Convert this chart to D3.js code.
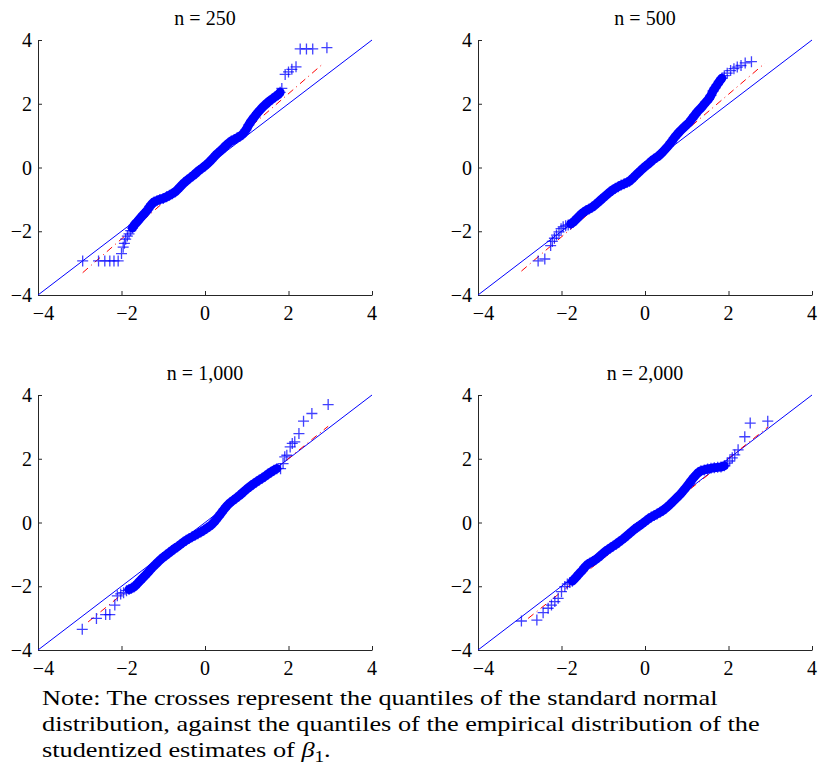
<!DOCTYPE html>
<html>
<head>
<meta charset="utf-8">
<script src="https://cdn.jsdelivr.net/npm/d3@7"></script>
<style>
  body { margin: 0; background: #fff; }
  .axis line, .axis path { stroke: #262626; }
</style>
</head>
<body>
<div id="chart"></div>
<script>
var serif = "'Liberation Serif', 'Times New Roman', serif";

// panel titles
var titles = ['n = 250', 'n = 500', 'n = 1,000', 'n = 2,000'];
var ticks = [-4, -2, 0, 2, 4];

// quantile pairs [normal quantile, studentized estimate quantile]
var qq250 = [
  [-2.93,-2.93],[-2.55,-2.93],[-2.40,-2.93],[-2.28,-2.93],[-2.18,-2.93],[-2.08,-2.93],
  [-2.00,-2.70],[-1.96,-2.50],[-1.93,-2.38],[-1.90,-2.25],[-1.86,-2.15],[-1.82,-2.08],
  [-1.78,-1.98],[-1.74,-1.90],[-1.70,-1.82],[-1.66,-1.75],[-1.62,-1.70],[-1.57,-1.62],
  [-1.52,-1.54],[-1.47,-1.47],[-1.42,-1.40],[-1.37,-1.32],[-1.32,-1.22],[-1.27,-1.14],
  [-1.22,-1.08],[-1.15,-1.04],[-1.08,-1.00],[-1.00,-0.97],[-0.92,-0.92],[-0.85,-0.87],
  [-0.78,-0.82],[-0.71,-0.76],[-0.64,-0.67],[-0.57,-0.57],[-0.50,-0.48],[-0.43,-0.40],
  [-0.36,-0.33],[-0.29,-0.26],[-0.22,-0.18],[-0.15,-0.10],[-0.08,-0.03],[0.00,0.05],
  [0.07,0.13],[0.14,0.22],[0.21,0.32],[0.28,0.42],[0.35,0.50],[0.42,0.58],[0.49,0.68],
  [0.56,0.76],[0.63,0.83],[0.70,0.88],[0.77,0.93],[0.84,0.98],[0.91,1.05],[0.98,1.18],
  [1.05,1.34],[1.12,1.48],[1.19,1.60],[1.26,1.72],[1.33,1.82],[1.40,1.92],[1.47,2.00],
  [1.54,2.08],[1.61,2.15],[1.68,2.22],[1.75,2.28],[1.80,2.36],[1.84,2.48],
  [1.92,2.92],[2.00,3.00],[2.08,3.08],[2.18,3.16],
  [2.28,3.72],[2.43,3.72],[2.58,3.72],[2.92,3.76]
];
var qq500 = [
  [-2.56,-2.93],[-2.40,-2.87],[-2.26,-2.45],[-2.22,-2.32],[-2.17,-2.22],[-2.12,-2.12],
  [-2.06,-2.02],[-2.01,-1.92],[-1.96,-1.86],[-1.90,-1.83],[-1.84,-1.80],[-1.78,-1.77],
  [-1.72,-1.72],[-1.66,-1.64],[-1.60,-1.56],[-1.54,-1.48],[-1.48,-1.41],[-1.41,-1.35],
  [-1.34,-1.30],[-1.27,-1.25],[-1.20,-1.18],[-1.13,-1.10],[-1.06,-1.02],[-0.99,-0.94],
  [-0.92,-0.86],[-0.85,-0.78],[-0.78,-0.71],[-0.71,-0.65],[-0.64,-0.60],[-0.57,-0.55],
  [-0.50,-0.51],[-0.43,-0.47],[-0.37,-0.43],[-0.31,-0.36],[-0.25,-0.28],[-0.19,-0.20],
  [-0.13,-0.13],[-0.06,-0.04],[0.00,0.03],[0.07,0.10],[0.14,0.18],[0.21,0.26],
  [0.28,0.32],[0.35,0.39],[0.42,0.48],[0.49,0.58],[0.56,0.68],[0.63,0.80],[0.70,0.93],
  [0.77,1.04],[0.84,1.14],[0.91,1.23],[0.98,1.32],[1.05,1.40],[1.12,1.52],[1.19,1.64],
  [1.26,1.76],[1.33,1.85],[1.40,1.96],[1.46,2.05],[1.52,2.14],[1.58,2.26],[1.63,2.40],
  [1.68,2.50],[1.73,2.60],[1.78,2.70],[1.84,2.80],[1.90,2.88],[1.97,2.96],[2.05,3.04],
  [2.13,3.10],[2.21,3.15],[2.30,3.20],[2.40,3.28],[2.55,3.32]
];
var qq1000 = [
  [-2.94,-3.35],[-2.60,-3.01],[-2.38,-2.89],[-2.28,-2.89],[-2.16,-2.59],[-2.10,-2.30],
  [-2.02,-2.24],[-1.95,-2.20],[-1.88,-2.14],[-1.82,-2.10],[-1.76,-2.06],[-1.70,-2.02],
  [-1.64,-1.95],[-1.58,-1.86],[-1.52,-1.78],[-1.46,-1.70],[-1.40,-1.62],[-1.34,-1.53],
  [-1.28,-1.44],[-1.22,-1.36],[-1.15,-1.27],[-1.08,-1.18],[-1.01,-1.10],[-0.94,-1.03],
  [-0.87,-0.96],[-0.80,-0.89],[-0.73,-0.82],[-0.66,-0.76],[-0.59,-0.69],[-0.52,-0.62],
  [-0.45,-0.56],[-0.38,-0.50],[-0.31,-0.45],[-0.24,-0.40],[-0.17,-0.35],[-0.10,-0.30],
  [-0.03,-0.24],[0.04,-0.18],[0.11,-0.12],[0.18,-0.04],[0.25,0.06],[0.32,0.18],
  [0.39,0.30],[0.46,0.42],[0.53,0.53],[0.60,0.62],[0.67,0.69],[0.74,0.76],[0.81,0.83],
  [0.88,0.91],[0.95,0.99],[1.02,1.07],[1.09,1.14],[1.16,1.21],[1.23,1.27],[1.30,1.33],
  [1.37,1.39],[1.44,1.45],[1.51,1.52],[1.58,1.58],[1.65,1.64],[1.72,1.69],[1.81,1.69],
  [1.87,1.85],[1.91,2.06],[1.96,2.11],[2.04,2.37],[2.09,2.48],[2.15,2.53],[2.25,2.79],
  [2.36,3.18],[2.56,3.42],[2.95,3.70]
];
var qq2000 = [
  [-2.96,-3.09],[-2.59,-3.06],[-2.44,-2.83],[-2.32,-2.69],[-2.24,-2.59],[-2.16,-2.48],
  [-2.08,-2.38],[-2.00,-2.17],[-1.92,-2.01],[-1.86,-1.93],[-1.80,-1.88],[-1.74,-1.84],
  [-1.68,-1.76],[-1.62,-1.67],[-1.56,-1.58],[-1.50,-1.50],[-1.44,-1.40],[-1.38,-1.32],
  [-1.32,-1.27],[-1.25,-1.22],[-1.18,-1.16],[-1.11,-1.09],[-1.04,-1.01],[-0.97,-0.93],
  [-0.90,-0.86],[-0.83,-0.80],[-0.76,-0.74],[-0.69,-0.68],[-0.62,-0.61],[-0.55,-0.54],
  [-0.48,-0.47],[-0.41,-0.39],[-0.34,-0.31],[-0.27,-0.23],[-0.20,-0.16],[-0.13,-0.10],
  [-0.06,-0.03],[0.01,0.04],[0.08,0.11],[0.15,0.17],[0.22,0.22],[0.29,0.27],
  [0.36,0.32],[0.43,0.38],[0.50,0.45],[0.57,0.53],[0.64,0.62],[0.71,0.71],[0.78,0.80],
  [0.85,0.89],[0.92,1.00],[0.99,1.11],[1.06,1.23],[1.13,1.35],[1.20,1.46],[1.27,1.56],
  [1.34,1.62],[1.42,1.65],[1.50,1.68],[1.58,1.70],[1.66,1.72],[1.74,1.73],[1.82,1.74],
  [1.90,1.78],[1.97,1.86],[2.03,1.93],[2.09,2.03],[2.15,2.12],[2.23,2.28],[2.39,2.69],
  [2.52,3.12],[2.94,3.18]
];

// x range where the crosses pile up into a solid band
var denseX = [[-1.75, 1.80], [-1.80, 1.86], [-1.85, 1.75], [-1.75, 1.95]];

// fitted reference line (red dash-dot) end points: [x1, y1, x2, y2]
var fitLines = [
  [-2.93, -3.30, 2.83, 3.26],
  [-2.96, -3.25, 2.87, 3.27],
  [-2.80, -3.12, 2.95, 3.02],
  [-2.80, -3.01, 2.95, 3.00]
];
var diagLine = [-4, -4, 4, 4];

var noteLines = [
  'Note: The crosses represent the quantiles of the standard normal',
  'distribution, against the quantiles of the empirical distribution of the'
];

var width = 820, height = 766;
var pw = 334, ph = 255;
var origins = [[38, 40], [478, 40], [38, 395], [478, 395]];
var series = [qq250, qq500, qq1000, qq2000];

var svg = d3.select('#chart').append('svg').attr('width', width).attr('height', height)
  .attr('font-family', serif);

var fmt = function(t) { return t < 0 ? '\u2212' + Math.abs(t) : String(t); };

series.forEach(function(data, k) {
  var ox = origins[k][0], oy = origins[k][1];
  var x = d3.scaleLinear().domain([-4, 4]).range([ox, ox + pw]);
  var y = d3.scaleLinear().domain([-4, 4]).range([oy + ph, oy]);
  var g = svg.append('g');

  // axes with inward ticks, no box
  g.append('g').attr('class', 'axis').attr('transform', 'translate(0,' + (oy + ph) + ')')
    .call(d3.axisBottom(x).tickValues(ticks).tickSizeInner(-4).tickSizeOuter(0).tickFormat(''));
  g.append('g').attr('class', 'axis').attr('transform', 'translate(' + ox + ',0)')
    .call(d3.axisLeft(y).tickValues(ticks).tickSizeInner(-4).tickSizeOuter(0).tickFormat(''));

  // tick labels: digit centred on the tick, minus hangs left
  g.append('g').selectAll('text.xl').data(ticks).enter().append('text').attr('class', 'xl')
    .attr('x', function(t) { return x(t) + (t < 0 ? 5.5 : 0); })
    .attr('y', oy + ph + 25)
    .style('text-anchor', 'middle').style('font-size', '20px')
    .text(fmt);
  g.append('g').selectAll('text.yl').data(ticks).enter().append('text').attr('class', 'yl')
    .attr('x', ox - 6)
    .attr('y', function(t) { return y(t) + 7; })
    .style('text-anchor', 'end').style('font-size', '20px')
    .text(fmt);

  g.append('text').attr('x', x(0)).attr('y', oy - 15)
    .style('text-anchor', 'middle').style('font-size', '20px').text(titles[k]);

  // y = x
  g.append('line')
    .attr('x1', x(diagLine[0])).attr('y1', y(diagLine[1]))
    .attr('x2', x(diagLine[2])).attr('y2', y(diagLine[3]))
    .attr('stroke', '#0000ff').attr('stroke-width', 1);

  // fitted line
  var f = fitLines[k];
  g.append('line')
    .attr('x1', x(f[0])).attr('y1', y(f[1]))
    .attr('x2', x(f[2])).attr('y2', y(f[3]))
    .attr('stroke', '#ff0000').attr('stroke-width', 1)
    .attr('stroke-dasharray', '7,4,1,4');

  // where hundreds of crosses overlap they merge into one solid stroke
  var dense = data.filter(function(p) { return p[0] >= denseX[k][0] && p[0] <= denseX[k][1]; });
  g.append('path').datum(dense)
    .attr('d', d3.line().x(function(p) { return x(p[0]); }).y(function(p) { return y(p[1]); }))
    .attr('fill', 'none').attr('stroke', '#0000ff').attr('stroke-width', 9)
    .attr('stroke-linejoin', 'round').attr('stroke-linecap', 'round');

  // crosses
  var s = 5.5;
  g.append('g').selectAll('path.cross').data(data).enter().append('path').attr('class', 'cross')
    .attr('d', function(p) {
      var cx = x(p[0]), cy = y(p[1]);
      return 'M' + (cx - s) + ',' + cy + 'h' + (2 * s) + 'M' + cx + ',' + (cy - s) + 'v' + (2 * s);
    })
    .attr('stroke', '#0000ff').attr('stroke-width', 1.3).attr('stroke-opacity', 0.75)
    .attr('fill', 'none');
});

// note under the panels
var note = svg.append('g').attr('class', 'note');
noteLines.forEach(function(line, i) {
  note.append('text').attr('x', 0).attr('y', i * 26).style('font-size', '22px').text(line);
});
var last = note.append('text').attr('x', 0).attr('y', 52).style('font-size', '22px');
last.append('tspan').text('studentized estimates of ');
last.append('tspan').style('font-style', 'italic').text('\u03b2');
last.append('tspan').attr('dy', 5).style('font-size', '16px').text('1');
last.append('tspan').attr('dy', -5).text('.');

var natural = note.select('text:nth-child(2)').node().getComputedTextLength();
var sx = 718 / natural;
note.attr('transform', 'translate(42,705) scale(' + sx + ',1)');
</script>
</body>
</html>
